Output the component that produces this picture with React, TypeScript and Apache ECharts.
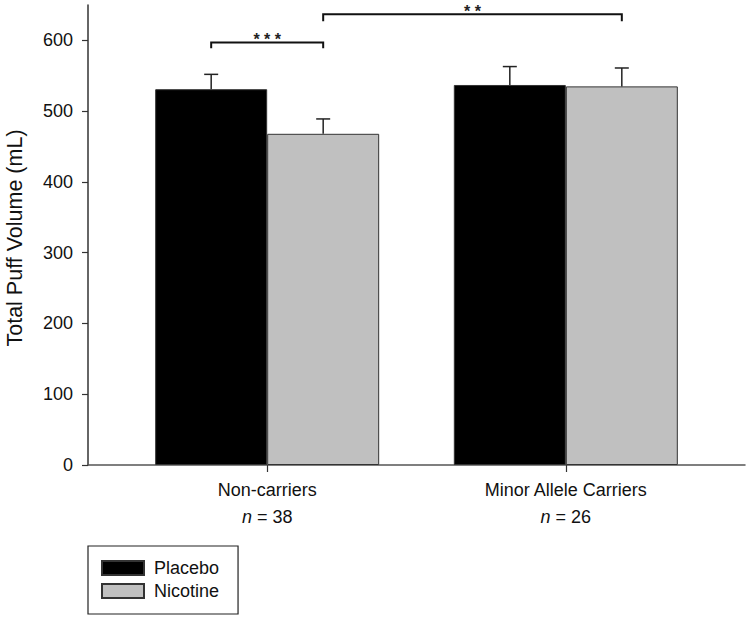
import React, { useEffect, useRef } from "react";
import * as echarts from "echarts";

const categories = ["Non-carriers", "Minor Allele Carriers"];
const sampleSizes = ["38", "26"];
const seriesNames = ["Placebo", "Nicotine"];
const placeboMeans = [531, 537];
const nicotineMeans = [468, 535];
const placeboSE = [21, 26];
const nicotineSE = [21, 26];
const yTicks = [0, 100, 200, 300, 400, 500, 600];
// significance brackets: [groupA, seriesA, groupB, seriesB, lineLevel, endLevel, label]
const brackets: [number, number, number, number, number, number, string][] = [
  [0, 0, 0, 1, 597, 589, "***"],
  [0, 1, 1, 1, 637, 627, "**"],
];

const BAR_W = 112;
const FONT = "'Liberation Sans', Arial, Helvetica, sans-serif";

export default function App() {
  const ref = useRef<HTMLDivElement>(null);
  useEffect(() => {
    if (!ref.current) return;
    const chart = echarts.init(ref.current, undefined, { renderer: "svg" });

    const errData: number[][] = [];
    placeboMeans.forEach((m, i) => errData.push([i, 0, m, placeboSE[i]]));
    nicotineMeans.forEach((m, i) => errData.push([i, 1, m, nicotineSE[i]]));

    const offset = (s: number) => (s === 0 ? -BAR_W / 2 : BAR_W / 2);

    const option: any = {
      animation: false,
      textStyle: { fontFamily: FONT },
      grid: { left: 88, right: 5, top: 5, bottom: 155 },
      legend: {
        data: seriesNames,
        orient: "vertical",
        left: 88,
        top: 546,
        itemWidth: 42,
        itemHeight: 14,
        itemGap: 5,
        padding: [13, 19, 14, 13],
        borderColor: "#222",
        borderWidth: 1.2,
        borderRadius: 0,
        icon: "rect",
        textStyle: { fontSize: 18, color: "#111", fontFamily: FONT, padding: [0, 0, 0, 5] },
      },
      xAxis: {
        type: "value",
        min: -0.6,
        max: 1.6,
        splitLine: { show: false },
        axisLine: { show: true, onZero: false, lineStyle: { color: "#555", width: 1.5 } },
        axisTick: { show: true, length: 7, lineStyle: { color: "#333", width: 1.2 }, customValues: [0, 1] },
        axisLabel: {
          customValues: [0, 1],
          margin: 11,
          formatter: (v: number) => {
            const i = Math.round(v);
            return `{c|${categories[i]}}\n{i|n}{c| = ${sampleSizes[i]}}`;
          },
          rich: {
            c: { fontSize: 18, color: "#111", fontFamily: FONT, lineHeight: 27 },
            i: { fontSize: 18, color: "#111", fontFamily: FONT, fontStyle: "italic", lineHeight: 27 },
          },
        },
      },
      yAxis: {
        type: "value",
        min: 0,
        max: 650,
        splitLine: { show: false },
        axisLine: { show: true, onZero: false, lineStyle: { color: "#333", width: 1.5 } },
        axisTick: { show: true, length: 6, lineStyle: { color: "#333", width: 1.2 }, customValues: yTicks },
        axisLabel: { customValues: yTicks, fontSize: 18, color: "#111", margin: 15, fontFamily: FONT },
      },
      graphic: [
        {
          type: "text",
          x: 15,
          y: 238,
          rotation: Math.PI / 2,
          style: {
            text: "Total Puff Volume (mL)",
            fontSize: 21.5,
            fill: "#111",
            fontFamily: FONT,
            align: "center",
            verticalAlign: "middle",
          },
        },
      ],
      series: [
        {
          name: seriesNames[0],
          type: "bar",
          data: placeboMeans.map((v, i) => [i, v]),
          barWidth: BAR_W,
          barGap: "0%",
          itemStyle: { color: "#000000", borderColor: "#333", borderWidth: 1 },
        },
        {
          name: seriesNames[1],
          type: "bar",
          data: nicotineMeans.map((v, i) => [i, v]),
          barWidth: BAR_W,
          barGap: "0%",
          itemStyle: { color: "#c0c0c0", borderColor: "#333", borderWidth: 1 },
        },
        {
          type: "custom",
          data: errData,
          z: 5,
          renderItem: (params: any, api: any) => {
            const g = api.value(0);
            const s = api.value(1);
            const m = api.value(2);
            const se = api.value(3);
            const base = api.coord([g, m]);
            const top = api.coord([g, m + se]);
            const x = base[0] + offset(s);
            return {
              type: "group",
              children: [
                { type: "line", shape: { x1: x, y1: base[1], x2: x, y2: top[1] }, style: { stroke: "#222", lineWidth: 1.5 } },
                { type: "line", shape: { x1: x - 7, y1: top[1], x2: x + 7, y2: top[1] }, style: { stroke: "#222", lineWidth: 1.5 } },
              ],
            };
          },
        },
        {
          type: "custom",
          data: brackets,
          z: 5,
          renderItem: (params: any, api: any) => {
            const b = brackets[params.dataIndex];
            const a = api.coord([b[0], b[4]]);
            const c = api.coord([b[2], b[4]]);
            const e = api.coord([b[0], b[5]]);
            const xa = a[0] + offset(b[1]);
            const xc = c[0] + offset(b[3]);
            return {
              type: "group",
              children: [
                {
                  type: "polyline",
                  shape: { points: [[xa, e[1]], [xa, a[1]], [xc, a[1]], [xc, e[1]]] },
                  style: { stroke: "#111", lineWidth: 2, fill: "none" },
                },
                {
                  type: "text",
                  x: (xa + xc) / 2,
                  y: a[1] - 3,
                  style: {
                    text: b[6].split("").join(" "),
                    fontSize: 16,
                    fontWeight: "bold",
                    fill: "#222",
                    fontFamily: FONT,
                    align: "center",
                    verticalAlign: "middle",
                  },
                },
              ],
            };
          },
        },
      ],
    };
    chart.setOption(option);
    return () => chart.dispose();
  }, []);
  return <div ref={ref} style={{ width: 750, height: 620, position: "absolute", left: 0, top: 0 }} />;
}
